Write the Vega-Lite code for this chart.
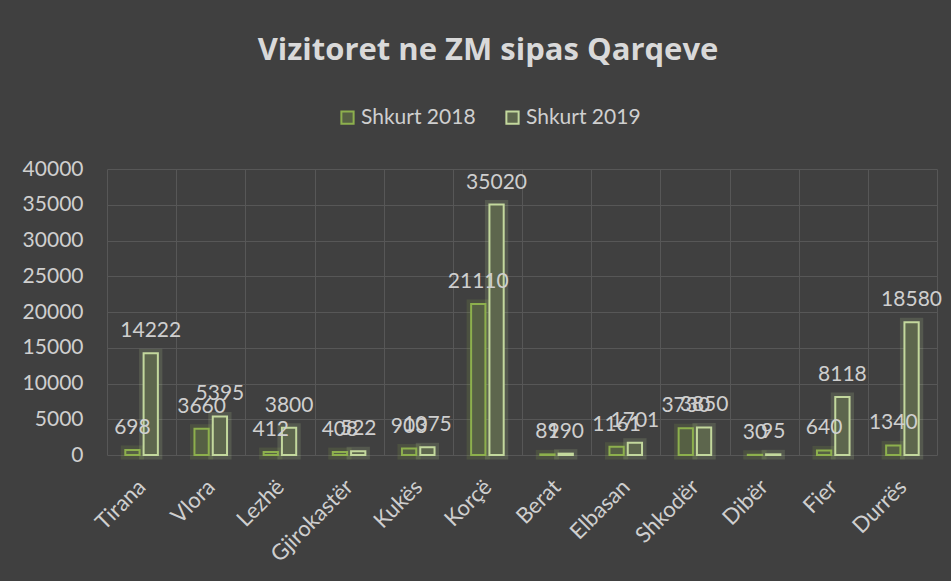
{
  "$schema": "https://vega.github.io/schema/vega-lite/v6.json",
  "autosize": "none",
  "width": 830,
  "height": 286,
  "padding": {"left": 107, "top": 169, "right": 14, "bottom": 126},
  "background": "#404040",
  "title": {
    "text": "Vizitoret ne ZM sipas Qarqeve",
    "font": "Open Sans",
    "fontSize": 31,
    "fontWeight": "bold",
    "color": "#d9d9d9",
    "anchor": "middle",
    "frame": "group",
    "baseline": "alphabetic",
    "offset": 16,
    "dx": -34
  },
  "data": {
    "values": [
      {"q": "Tirana", "s": "Shkurt 2018", "v": 698},
      {"q": "Tirana", "s": "Shkurt 2019", "v": 14222},
      {"q": "Vlora", "s": "Shkurt 2018", "v": 3660},
      {"q": "Vlora", "s": "Shkurt 2019", "v": 5395},
      {"q": "Lezhë", "s": "Shkurt 2018", "v": 412},
      {"q": "Lezhë", "s": "Shkurt 2019", "v": 3800},
      {"q": "Gjirokastër", "s": "Shkurt 2018", "v": 408},
      {"q": "Gjirokastër", "s": "Shkurt 2019", "v": 522},
      {"q": "Kukës", "s": "Shkurt 2018", "v": 903},
      {"q": "Kukës", "s": "Shkurt 2019", "v": 1075},
      {"q": "Korçë", "s": "Shkurt 2018", "v": 21110},
      {"q": "Korçë", "s": "Shkurt 2019", "v": 35020},
      {"q": "Berat", "s": "Shkurt 2018", "v": 89},
      {"q": "Berat", "s": "Shkurt 2019", "v": 190},
      {"q": "Elbasan", "s": "Shkurt 2018", "v": 1161},
      {"q": "Elbasan", "s": "Shkurt 2019", "v": 1701},
      {"q": "Shkodër", "s": "Shkurt 2018", "v": 3730},
      {"q": "Shkodër", "s": "Shkurt 2019", "v": 3850},
      {"q": "Dibër", "s": "Shkurt 2018", "v": 30},
      {"q": "Dibër", "s": "Shkurt 2019", "v": 95},
      {"q": "Fier", "s": "Shkurt 2018", "v": 640},
      {"q": "Fier", "s": "Shkurt 2019", "v": 8118},
      {"q": "Durrës", "s": "Shkurt 2018", "v": 1340},
      {"q": "Durrës", "s": "Shkurt 2019", "v": 18580}
    ]
  },
  "encoding": {
    "x": {
      "field": "q",
      "type": "nominal",
      "sort": null,
      "scale": {"paddingInner": 0, "paddingOuter": 0},
      "axis": {
        "title": null,
        "tickBand": "extent",
        "grid": true,
        "gridColor": "#575757",
        "gridWidth": 1,
        "domain": false,
        "ticks": false,
        "labelAngle": -45,
        "labelAlign": "right",
        "labelBaseline": "middle",
        "labelPadding": 28,
        "labelFont": "Lato",
        "labelFontSize": 22,
        "labelColor": "#cfcfcf"
      }
    },
    "xOffset": {
      "field": "s",
      "type": "nominal",
      "scale": {"paddingInner": 0.22, "paddingOuter": 1.03}
    },
    "y": {
      "field": "v",
      "type": "quantitative",
      "scale": {"domain": [0, 40000], "nice": false},
      "axis": {
        "title": null,
        "format": "d",
        "values": [0, 5000, 10000, 15000, 20000, 25000, 30000, 35000, 40000],
        "grid": true,
        "gridColor": "#575757",
        "gridWidth": 1,
        "domain": false,
        "ticks": false,
        "labelPadding": 24,
        "labelFont": "Lato",
        "labelFontSize": 21,
        "labelColor": "#cfcfcf"
      }
    }
  },
  "layer": [
    {
      "mark": {"type": "bar", "fill": "transparent", "strokeWidth": 9, "strokeOpacity": 0.16},
      "encoding": {
        "stroke": {
          "field": "s",
          "type": "nominal",
          "scale": {"domain": ["Shkurt 2018", "Shkurt 2019"], "range": ["#8db04d", "#c3d89d"]},
          "legend": null
        }
      }
    },
    {
      "mark": {"type": "bar", "strokeWidth": 2},
      "encoding": {
        "stroke": {
          "field": "s",
          "type": "nominal",
          "scale": {"domain": ["Shkurt 2018", "Shkurt 2019"], "range": ["#8db04d", "#c3d89d"]},
          "legend": {
            "title": null,
            "orient": "none",
            "direction": "horizontal",
            "legendX": 230,
            "legendY": -62,
            "symbolType": "square",
            "symbolSize": 150,
            "symbolStrokeWidth": 2,
            "labelFont": "Lato",
            "labelFontSize": 21,
            "labelColor": "#cfcfcf",
            "labelOffset": 3,
            "columnPadding": 26
          }
        },
        "fill": {
          "field": "s",
          "type": "nominal",
          "scale": {"domain": ["Shkurt 2018", "Shkurt 2019"], "range": ["#566044", "#5d664d"]},
          "legend": {
            "title": null,
            "orient": "none",
            "direction": "horizontal",
            "legendX": 230,
            "legendY": -62,
            "symbolType": "square",
            "symbolSize": 150,
            "symbolStrokeWidth": 2,
            "labelFont": "Lato",
            "labelFontSize": 21,
            "labelColor": "#cfcfcf",
            "labelOffset": 3,
            "columnPadding": 26
          }
        }
      }
    },
    {
      "mark": {"type": "text", "font": "Lato", "fontSize": 21, "color": "#cfcfcf", "baseline": "alphabetic", "align": "center", "dy": -16},
      "encoding": {
        "text": {"field": "v", "type": "quantitative", "format": "d"}
      }
    }
  ],
  "resolve": {"legend": {"stroke": "independent", "fill": "independent"}},
  "config": {
    "view": {"stroke": null}
  }
}
